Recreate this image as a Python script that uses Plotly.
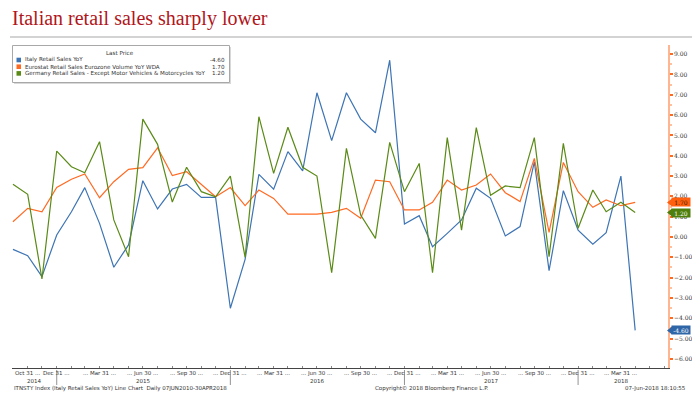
import pandas as pd
import plotly.graph_objects as go

# ---------------- data ----------------
dates = pd.date_range("2014-09-30", periods=44, freq="ME")

italy = [-0.61, -0.92, -1.95, 0.10, 1.24, 2.43, 0.67, -1.49, -0.39, 2.77, 1.38, 2.36,
         2.59, 1.95, 1.95, -3.51, -1.10, 3.08, 2.35, 4.20, 3.25, 7.10, 4.74, 7.10,
         5.80, 5.13, 8.70, 0.64, 1.05, -0.48, 0.18, 0.84, 2.40, 1.90, 0.05, 0.51,
         3.70, -1.66, 2.28, 0.34, -0.36, 0.21, 3.00, -4.60]

eurozone = [0.75, 1.41, 1.24, 2.44, 2.84, 3.10, 1.93, 2.72, 3.33, 3.41, 4.39, 3.02,
            3.21, 2.56, 1.98, 2.43, 1.54, 2.31, 1.90, 1.12, 1.12, 1.12, 1.21, 1.41,
            0.92, 2.80, 2.72, 1.33, 1.33, 1.71, 2.80, 2.31, 2.56, 3.10, 2.18, 1.74,
            3.87, 0.23, 3.67, 2.23, 1.46, 1.82, 1.54, 1.70]

germany = [2.59, 2.10, -2.07, 4.23, 3.46, 3.16, 4.69, 0.84, -0.97, 5.80, 4.56, 1.72,
           3.43, 2.23, 1.98, 3.00, -1.00, 5.92, 3.13, 5.40, 3.43, 3.00, -1.76, 4.36,
           1.08, -0.07, 4.66, 2.23, 3.62, -1.76, 4.89, 0.34, 5.38, 2.05, 2.51, 2.43,
           4.89, -0.97, 4.61, 0.43, 2.31, 1.24, 1.71, 1.20]

series_names = ["Italy Retail Sales YoY",
                "Eurostat Retail Sales Eurozone Volume YoY WDA",
                "Germany Retail Sales - Except Motor Vehicles & Motorcycles YoY"]
last_prices = ["-4.60", "1.70", "1.20"]

tick_dates = ["2014-10-31", "2014-12-31", "2015-03-31", "2015-06-30", "2015-09-30",
              "2015-12-31", "2016-03-31", "2016-06-30", "2016-09-30", "2016-12-31",
              "2017-03-31", "2017-06-30", "2017-09-30", "2017-12-31", "2018-03-31"]
tick_labels = ["Oct 31 ...", "Dec 31 ...", "... Mar 31 ...", "... Jun 30 ...", "... Sep 30 ...",
               "... Dec 31 ...", "... Mar 31 ...", "... Jun 30 ...", "... Sep 30 ...", "... Dec 31 ...",
               "... Mar 31 ...", "... Jun 30 ...", "... Sep 30 ...", "... Dec 31 ...", "... Mar 31 ..."]

year_labels = ["2014", "2015", "2016", "2017", "2018"]
year_centers = ["2014-11-13", "2015-07-01", "2016-07-01", "2017-07-01", "2018-03-31"]
year_breaks = ["2014-12-31", "2015-12-31", "2016-12-31", "2017-12-31"]

y_ticks = [-6, -5, -4, -3, -2, -1, 0, 1, 2, 3, 4, 5, 6, 7, 8, 9]

# ---------------- style ----------------
colors = ["#3D74B4", "#FF6A22", "#5A8A16"]
box_colors = ["#2F66A8", "#FF600F", "#4E7F0C"]
box_text = ["white", "#3a1a00", "white"]

OFF = 8  # default page body margin
W_FIG, H_FIG = 700 - OFF, 398 - OFF
# plot area edges in reference page pixels
L, R, T, B = 12, 668, 45, 368
PW, PH = R - L, B - T


def px(x):
    return (x - L) / PW


def py(y):
    return (B - y) / PH


small = "DejaVu Sans"

fig = go.Figure()
for name, vals, col in zip(series_names, [italy, eurozone, germany], colors):
    fig.add_trace(go.Scatter(x=dates, y=vals, mode="lines", name=name,
                             line=dict(color=col, width=1.2), showlegend=False))

annotations = []
shapes = []

# x tick labels
for d, t in zip(tick_dates, tick_labels):
    annotations.append(dict(x=d, xref="x", y=py(373), yref="paper", text=t,
                            showarrow=False, xanchor="center", yanchor="middle",
                            font=dict(family=small, size=5.5, color="#333")))
# year labels
for d, t in zip(year_centers, year_labels):
    annotations.append(dict(x=d, xref="x", y=py(381), yref="paper", text=t,
                            showarrow=False, xanchor="center", yanchor="middle",
                            font=dict(family=small, size=5.5, color="#333")))
for d in year_breaks:
    shapes.append(dict(type="line", xref="x", yref="paper", x0=d, x1=d,
                       y0=py(370), y1=py(385), line=dict(color="#777", width=0.8)))

# footer
annotations += [
    dict(x=px(12), y=py(388), xref="paper", yref="paper", showarrow=False,
         xanchor="left", yanchor="middle",
         text="ITNSTY Index (Italy Retail Sales YoY) Line Chart  Daily 07JUN2010-30APR2018",
         font=dict(family=small, size=5.5, color="#333")),
    dict(x=px(373), y=py(388), xref="paper", yref="paper", showarrow=False,
         xanchor="left", yanchor="middle",
         text="Copyright© 2018 Bloomberg Finance L.P.",
         font=dict(family=small, size=5.5, color="#333")),
    dict(x=px(688), y=py(388), xref="paper", yref="paper", showarrow=False,
         xanchor="right", yanchor="middle",
         text="07-Jun-2018 18:10:55",
         font=dict(family=small, size=5.5, color="#333")),
]

# title underline
shapes.append(dict(type="line", xref="paper", yref="paper", x0=px(10), x1=px(700),
                   y0=py(37), y1=py(37), line=dict(color="#d3d3d3", width=2)))

# custom legend box
shapes.append(dict(type="rect", xref="paper", yref="paper", x0=px(14), x1=px(231),
                   y0=py(84), y1=py(47), line=dict(width=0), fillcolor="#d8d8d8", layer="above"))
shapes.append(dict(type="rect", xref="paper", yref="paper", x0=px(12.5), x1=px(229.5),
                   y0=py(82.5), y1=py(45.5), line=dict(color="#a8a8a8", width=1),
                   fillcolor="white", layer="above"))
annotations.append(dict(x=px(120), y=py(53), xref="paper", yref="paper", showarrow=False,
                        xanchor="center", yanchor="middle", text="Last Price",
                        font=dict(family=small, size=5.6, color="#333")))
for i, (name, lp, col) in enumerate(zip(series_names, last_prices, colors)):
    yc = 60 + i * 6.7
    shapes.append(dict(type="rect", xref="paper", yref="paper", x0=px(16.5), x1=px(21),
                       y0=py(yc + 2.3), y1=py(yc - 2.3), line=dict(width=0),
                       fillcolor=col, layer="above"))
    annotations.append(dict(x=px(23), y=py(yc), xref="paper", yref="paper", showarrow=False,
                            xanchor="left", yanchor="middle", text=name,
                            font=dict(family=small, size=5.6, color="#333")))
    annotations.append(dict(x=px(227), y=py(yc), xref="paper", yref="paper", showarrow=False,
                            xanchor="right", yanchor="middle", text=lp,
                            font=dict(family=small, size=5.6, color="#333")))

# right axis value tags
u = 1 / 20.33  # value per pixel
for vals, lp, bc, tc in zip([italy, eurozone, germany], last_prices, box_colors, box_text):
    v = vals[-1]
    shapes.append(dict(type="path", xref="paper", yref="y",
                       path=f"M {px(667)},{v} L {px(672)},{v + 4 * u} L {px(672)},{v - 4 * u} Z",
                       fillcolor=bc, line=dict(width=0), layer="above"))
    annotations.append(dict(x=px(671), y=v, xref="paper", yref="y", showarrow=False,
                            xanchor="left", yanchor="middle", text=lp,
                            bgcolor=bc, borderpad=1, width=16, height=6,
                            font=dict(family="DejaVu Serif", size=6, color=tc)))

fig.update_layout(
    width=W_FIG, height=H_FIG,
    margin=dict(l=L - OFF, r=700 - R, t=T - OFF, b=398 - B, pad=0),
    paper_bgcolor="white", plot_bgcolor="white",
    title=dict(text="Italian retail sales sharply lower", x=(12 - OFF) / W_FIG, xanchor="left",
               xref="container", y=1, yanchor="top", yref="container",
               pad=dict(t=3, b=0, l=0, r=0),
               font=dict(family="Liberation Serif", size=20, color="#B0161B")),
    xaxis=dict(type="date", range=["2014-09-28", "2018-07-08"], showgrid=False,
               zeroline=False, showline=True, linecolor="#444", linewidth=1,
               showticklabels=False, ticks="inside", ticklen=2, tickcolor="#888",
               dtick="M1", tick0="2014-09-30"),
    yaxis=dict(side="right", range=[-6.45, 9.45], showgrid=False, zeroline=False,
               showline=True, linecolor="#FFB590", linewidth=1.5,
               tickvals=y_ticks, ticks="outside", ticklen=3, tickwidth=1.5,
               tickcolor="#FF6A22", tickformat=".2f",
               tickfont=dict(family="DejaVu Serif", size=6, color="#333"),
               minor=dict(dtick=0.5, ticks="outside", ticklen=2, tickcolor="#FFC0A0")),
    annotations=annotations, shapes=shapes,
)

fig.write_html("out.html")
